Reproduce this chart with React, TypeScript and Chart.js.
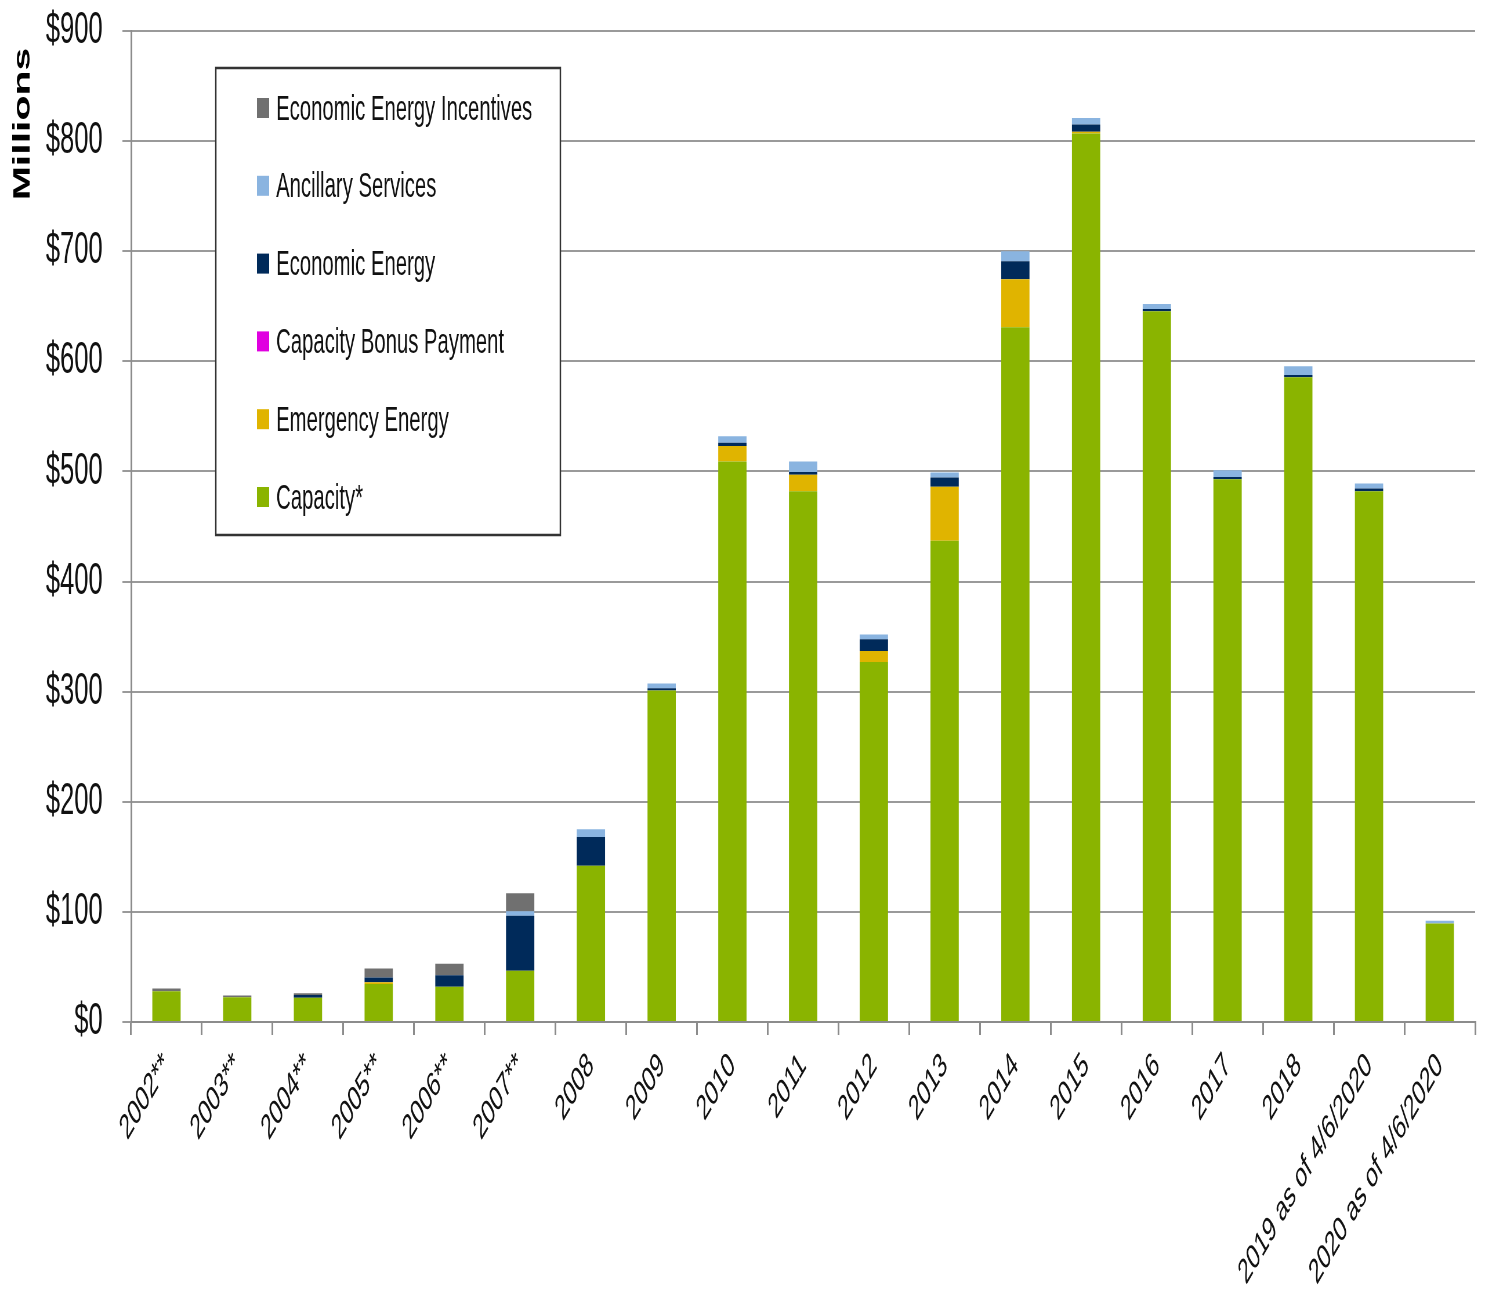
import React, { useEffect, useRef } from "react";
import { Chart, registerables } from "chart.js";

Chart.register(...registerables);

const categories = [
  "2002**", "2003**", "2004**", "2005**", "2006**", "2007**", "2008", "2009", "2010",
  "2011", "2012", "2013", "2014", "2015", "2016", "2017", "2018",
  "2019 as of 4/6/2020", "2020 as of 4/6/2020",
];

const capacity = [28, 22.5, 22, 34.5, 32, 46.5, 142, 301, 509, 482, 327, 437, 631, 807, 645.5, 493, 585.5, 482, 89.5];
const emergencyEnergy = [0, 0, 0, 1.5, 0, 0, 0, 0, 14, 15, 10, 49, 43.5, 1.5, 0, 0, 0, 0, 0];
const capacityBonus = [0, 0, 0, 0, 0, 0, 0, 0, 0, 0, 0, 0, 0, 0, 0, 0, 0, 0, 0];
const economicEnergy = [0, 0, 2.5, 4.5, 10.5, 50, 26, 2, 3, 2.5, 10.5, 8.5, 16.5, 6.5, 2, 2, 2, 2.5, 0];
const ancillaryServices = [0, 0, 0, 0, 0, 4, 7, 4.5, 6, 9.5, 4.5, 4.5, 9, 6, 4.5, 6, 8, 4.5, 2.5];
const economicIncentives = [2.5, 1.5, 1.5, 8, 10.5, 16.5, 0, 0, 0, 0, 0, 0, 0, 0, 0, 0, 0, 0, 0];

const yTicks = [0, 100, 200, 300, 400, 500, 600, 700, 800, 900];
const yAxisTitle = "Millions";

const FONT = "'Liberation Sans', Arial, sans-serif";
const SX = 1485 / 2560;

const legendPlugin = {
  id: "boxLegend",
  afterDraw(chart: any) {
    const ctx = chart.ctx;
    const left = 372, top = 68, w = 594, h = 467;
    ctx.save();
    ctx.fillStyle = "#ffffff";
    ctx.fillRect(left, top, w, h);
    ctx.strokeStyle = "#333333";
    ctx.lineWidth = 2.5;
    ctx.strokeRect(left, top, w, h);
    const items = [...chart.data.datasets].reverse();
    ctx.font = `35px ${FONT}`;
    ctx.textBaseline = "middle";
    ctx.textAlign = "left";
    items.forEach((ds: any, i: number) => {
      const cy = 108 + i * 77.8;
      ctx.fillStyle = ds.backgroundColor;
      ctx.fillRect(443, cy - 10, 21, 20);
      ctx.fillStyle = "#111111";
      ctx.fillText(ds.label, 476, cy + 2);
    });
    ctx.restore();

    // y-axis title
    ctx.save();
    ctx.translate(40, 124);
    ctx.rotate(-Math.PI / 2);
    ctx.font = `bold 41px ${FONT}`;
    ctx.fillStyle = "#000000";
    ctx.textAlign = "center";
    ctx.textBaseline = "middle";
    ctx.fillText(yAxisTitle, 0, 0);
    ctx.restore();
  },
};

export default function App() {
  const ref = useRef<HTMLCanvasElement | null>(null);
  useEffect(() => {
    if (!ref.current) return;
    const mk = (label: string, data: number[], color: string) => ({
      label,
      data,
      backgroundColor: color,
      borderWidth: 0,
      barPercentage: 0.4,
      categoryPercentage: 1,
    });
    const chart = new Chart(ref.current, {
      type: "bar",
      data: {
        labels: categories,
        datasets: [
          mk("Capacity*", capacity, "#8ab400"),
          mk("Emergency Energy", emergencyEnergy, "#e0b400"),
          mk("Capacity Bonus Payment", capacityBonus, "#e000e0"),
          mk("Economic Energy", economicEnergy, "#002a5a"),
          mk("Ancillary Services", ancillaryServices, "#8ab4e0"),
          mk("Economic Energy Incentives", economicIncentives, "#707070"),
        ],
      },
      options: {
        animation: false,
        responsive: true,
        maintainAspectRatio: false,
        layout: { padding: { top: 0, right: 17, left: 0, bottom: 0 } },
        plugins: {
          legend: { display: false },
          tooltip: { enabled: false },
        },
        scales: {
          x: {
            stacked: true,
            afterFit: (s: any) => { s.height = 273; },
            grid: {
              display: true,
              drawOnChartArea: false,
              drawTicks: true,
              tickLength: 13,
              offset: true,
              color: "#8c8c8c",
              lineWidth: 3,
            },
            border: { display: true, color: "#8c8c8c", width: 2 },
            ticks: {
              autoSkip: false,
              minRotation: 45,
              maxRotation: 45,
              padding: 10,
              color: "#111111",
              font: { family: FONT, size: 35 },
            },
          },
          y: {
            stacked: true,
            min: 0,
            max: 900,
            afterFit: (s: any) => {
              s.width = 226;
              s.paddingTop = 31;
              s.paddingBottom = 0;
            },
            afterBuildTicks: (s: any) => { s.ticks = yTicks.map((v) => ({ value: v })); },
            grid: {
              color: "#9a9a9a",
              lineWidth: 2,
              tickLength: 15,
            },
            border: { display: true, color: "#8c8c8c", width: 3 },
            ticks: {
              padding: 34,
              color: "#111111",
              font: { family: FONT, size: 44 },
              callback: (v: any) => "$" + v,
            },
          },
        },
      },
      plugins: [legendPlugin],
    } as any);
    return () => chart.destroy();
  }, []);

  return (
    <div style={{ position: "absolute", left: 0, top: 0, width: 1485, height: 1295, overflow: "hidden", background: "#fff" }}>
      <div
        style={{
          position: "absolute",
          left: 0,
          top: 0,
          width: 2560,
          height: 1295,
          transform: `scale(${SX}, 1)`,
          transformOrigin: "0 0",
        }}
      >
        <canvas ref={ref} />
      </div>
    </div>
  );
}
